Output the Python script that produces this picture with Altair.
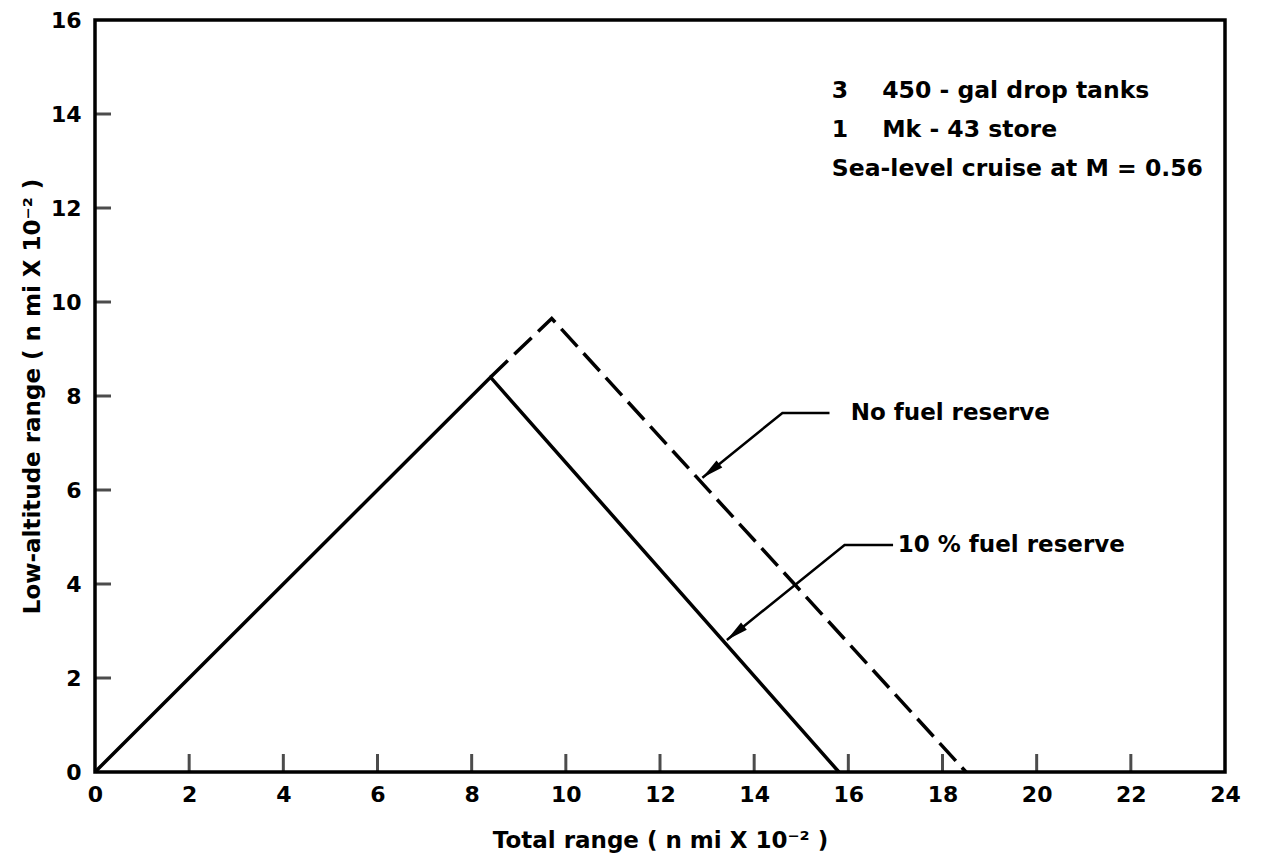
import math
import altair as alt
import pandas as pd

# ---- data ----
solid_x = [0.0, 8.4, 15.8]
solid_y = [0.0, 8.4, 0.0]

dashed_x = [8.4, 9.7, 18.5]
dashed_y = [8.4, 9.65, 0.0]

x_ticks = [2, 4, 6, 8, 10, 12, 14, 16, 18, 20, 22]
y_ticks = [2, 4, 6, 8, 10, 12, 14]
x_labels = [0, 2, 4, 6, 8, 10, 12, 14, 16, 18, 20, 22, 24]
y_labels = [0, 2, 4, 6, 8, 10, 12, 14, 16]

# leader lines: text end -> bend -> arrow tip
lead1_x = [15.6, 14.6, 12.9]
lead1_y = [7.64, 7.64, 6.26]
lead2_x = [16.95, 15.92, 13.42]
lead2_y = [4.83, 4.83, 2.81]

ann_text = ["No fuel reserve", "10 % fuel reserve"]
ann_x = [16.05, 17.05]
ann_y = [7.64, 4.83]

note_num = ["3", "1", "Sea-level cruise at M = 0.56"]
note_num_x = [15.65, 15.65, 15.65]
note_rest = ["450 - gal drop tanks", "Mk - 43 store"]
note_rest_x = [16.72, 16.72]
note_y = [14.5, 13.66, 12.82]

W, H = 1130, 752
FONT = "DejaVu Sans"

xs = alt.Scale(domain=[0, 24], nice=False, zero=False)
ys = alt.Scale(domain=[0, 16], nice=False, zero=False)

solid = pd.DataFrame({"x": solid_x, "y": solid_y, "i": range(3)})
dashed = pd.DataFrame({"x": dashed_x, "y": dashed_y, "i": range(3)})

base_x = alt.X("x:Q", scale=xs,
               axis=alt.Axis(values=x_labels, ticks=False, domain=False, grid=False,
                             labelFlush=False, labelPadding=12,
                             title="Total range  ( n mi X 10⁻² )", titlePadding=24))
base_y = alt.Y("y:Q", scale=ys,
               axis=alt.Axis(values=y_labels, ticks=False, domain=False, grid=False,
                             labelFlush=False, labelPadding=14,
                             title="Low-altitude range ( n mi X 10⁻² )", titlePadding=6))

solid_line = alt.Chart(solid).mark_line(color="black", strokeWidth=3.5).encode(
    x=base_x, y=base_y, order="i:O")
dashed_line = alt.Chart(dashed).mark_line(color="black", strokeWidth=3.5,
                                          strokeDash=[24, 9]).encode(
    x="x:Q", y="y:Q", order="i:O")

# inward ticks
xt = alt.Chart(pd.DataFrame({"x": x_ticks, "y": [0] * len(x_ticks)})).mark_tick(
    orient="vertical", size=18, thickness=3, color="black", yOffset=-9).encode(
    x="x:Q", y="y:Q")
yt = alt.Chart(pd.DataFrame({"y": y_ticks, "x": [0] * len(y_ticks)})).mark_tick(
    orient="horizontal", size=16, thickness=3, color="black", xOffset=8).encode(
    x="x:Q", y="y:Q")

# leader lines
leads = pd.DataFrame({
    "x": lead1_x + lead2_x,
    "y": lead1_y + lead2_y,
    "g": ["a"] * 3 + ["b"] * 3,
    "i": list(range(3)) * 2,
})
lead_lines = alt.Chart(leads).mark_line(color="black", strokeWidth=2.5).encode(
    x="x:Q", y="y:Q", detail="g:N", order="i:O")

pxx, pxy = W / 24, H / 16


def arrow_angle(lx, ly):
    dx = (lx[2] - lx[1]) * pxx
    dy = -(ly[2] - ly[1]) * pxy
    return (math.degrees(math.atan2(dx, -dy)) + 360) % 360


heads = pd.DataFrame({
    "x": [lead1_x[2], lead2_x[2]],
    "y": [lead1_y[2], lead2_y[2]],
    "a": [arrow_angle(lead1_x, lead1_y), arrow_angle(lead2_x, lead2_y)],
})
arrow_heads = alt.Chart(heads).mark_point(
    shape="M0,0L0.42,2L-0.42,2Z", filled=True, color="black", opacity=1,
    size=480, strokeWidth=0).encode(
    x="x:Q", y="y:Q", angle=alt.Angle("a:Q", scale=None))

ann = alt.Chart(pd.DataFrame({"t": ann_text, "x": ann_x, "y": ann_y})).mark_text(
    align="left", baseline="middle", font=FONT, fontSize=23, fontWeight="bold",
    color="black").encode(x="x:Q", y="y:Q", text="t:N")

notes1 = alt.Chart(pd.DataFrame({"t": note_num, "x": note_num_x, "y": note_y})).mark_text(
    align="left", baseline="middle", font=FONT, fontSize=23.5, fontWeight="bold",
    color="black").encode(x="x:Q", y="y:Q", text="t:N")
notes2 = alt.Chart(pd.DataFrame({"t": note_rest, "x": note_rest_x, "y": note_y[:2]})).mark_text(
    align="left", baseline="middle", font=FONT, fontSize=23.5, fontWeight="bold",
    color="black").encode(x="x:Q", y="y:Q", text="t:N")

chart = alt.layer(solid_line, dashed_line, xt, yt, lead_lines, arrow_heads,
                  ann, notes1, notes2).properties(
    width=W, height=H,
    padding={"left": 87, "top": 12, "right": 25, "bottom": 85},
    autosize=alt.AutoSizeParams(type="none"),
    background="white",
).configure_view(
    stroke="black", strokeWidth=3.5
).configure_axis(
    labelFont=FONT, labelFontSize=22, labelFontWeight="bold", labelColor="black",
    titleFont=FONT, titleFontSize=23, titleFontWeight="bold", titleColor="black",
)

chart.save("out.html", embed_options={"renderer": "svg", "actions": False})
